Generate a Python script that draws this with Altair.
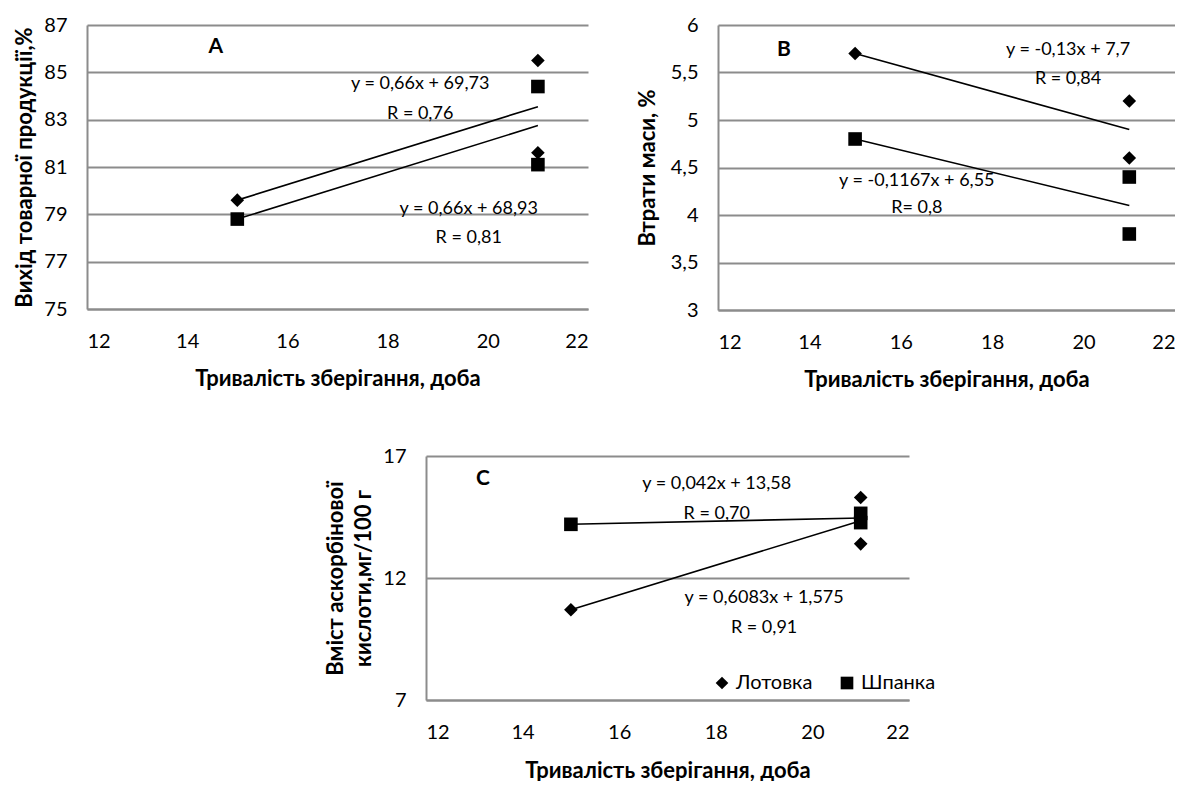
import altair as alt
import pandas as pd

FONT = "Lato"
GRID = "#8c8c8c"

# ---- data -------------------------------------------------------------
varieties = ["Лотовка", "Шпанка"]
days = [15, 21, 21]

a_lotovka = [79.6, 85.5, 81.6]
a_shpanka = [78.8, 84.4, 81.1]
b_lotovka = [5.7, 5.2, 4.6]
b_shpanka = [4.8, 4.4, 3.8]
c_lotovka = [10.7, 15.3, 13.4]
c_shpanka = [14.2, 14.65, 14.27]

x_ticks = [12, 14, 16, 18, 20, 22]
a_ticks = [75, 77, 79, 81, 83, 85, 87]
b_ticks = [3, 3.5, 4, 4.5, 5, 5.5, 6]
c_ticks = [7, 12, 17]

x_title = "Тривалість зберігання, доба"
a_title = "Вихід товарної продукції,%"
b_title = "Втрати маси, %"
c_title = ["Вміст аскорбінової", "кислоти,мг/100 г"]

a_labels = ["y = 0,66x + 69,73", "R = 0,76", "y = 0,66x + 68,93", "R = 0,81"]
a_label_x = [18.65, 18.65, 19.62, 19.62]
a_label_y = [84.5, 83.24, 79.23, 78.0]
b_labels = ["y = -0,13x + 7,7", "R = 0,84", "y = -0,1167x + 6,55", "R= 0,8"]
b_label_x = [19.66, 19.66, 16.35, 16.35]
b_label_y = [5.74, 5.43, 4.36, 4.07]
c_labels = ["y = 0,042x + 13,58", "R = 0,70", "y = 0,6083x + 1,575", "R = 0,91"]
c_label_x = [18.02, 18.02, 19.0, 19.0]
c_label_y = [15.85, 14.62, 11.18, 9.95]

letters = ["A", "B", "C"]
letter_x = [14.57, 13.44, 13.18]
letter_y = [86.07, 5.74, 16.06]


def points_frame(lot, shp):
    rows = []
    for d, v in zip(days, lot):
        rows.append({"day": d, "val": v, "variety": varieties[0]})
    for d, v in zip(days, shp):
        rows.append({"day": d, "val": v, "variety": varieties[1]})
    return pd.DataFrame(rows)


def panel(lot, shp, yticks, ytitle, labels, lx, ly, letter, ltx, lty,
          width, height, ytitle_pad, xtitle_pad, show_legend):
    df = points_frame(lot, shp)
    ydom = [min(yticks), max(yticks)]
    xs = alt.Scale(domain=[12, 22], nice=False, zero=False)
    ys = alt.Scale(domain=ydom, nice=False, zero=False)
    xaxis = alt.Axis(values=x_ticks, title=x_title, grid=False, ticks=False,
                     labelPadding=22, titlePadding=xtitle_pad,
                     domainColor=GRID, domainWidth=2)
    yaxis = alt.Axis(values=yticks, title=ytitle, grid=True, ticks=False,
                     labelPadding=20, titlePadding=ytitle_pad,
                     domainColor=GRID, domainWidth=2,
                     gridColor=GRID, gridWidth=2,
                     labelExpr="replace(toString(datum.value), '.', ',')")
    if show_legend:
        legend = alt.Legend(title=None, orient="none", direction="horizontal",
                            legendX=286, legendY=217, symbolSize=160, padding=0,
                            symbolFillColor="black", symbolStrokeColor="black",
                            symbolStrokeWidth=0,
                            labelFont=FONT, labelFontSize=20, labelColor="black",
                            columnPadding=24, labelOffset=4)
    else:
        legend = None

    trend = alt.Chart(df).transform_regression(
        "day", "val", groupby=["variety"], extent=[15, 21]
    ).mark_line(color="black", strokeWidth=1.6).encode(
        x=alt.X("day:Q", scale=xs, axis=xaxis),
        y=alt.Y("val:Q", scale=ys, axis=yaxis),
        detail="variety:N",
    )
    pts = alt.Chart(df).mark_point(filled=True, opacity=1, color="black",
                                   size=185).encode(
        x=alt.X("day:Q", scale=xs),
        y=alt.Y("val:Q", scale=ys),
        shape=alt.Shape("variety:N",
                        scale=alt.Scale(domain=varieties, range=["diamond", "square"]),
                        legend=legend),
    )
    ann = pd.DataFrame({"label": labels, "day": lx, "val": ly})
    txt = alt.Chart(ann).mark_text(font=FONT, fontSize=18, color="black").encode(
        x=alt.X("day:Q", scale=xs), y=alt.Y("val:Q", scale=ys), text="label:N"
    )
    let = alt.Chart(pd.DataFrame({"label": [letter], "day": [ltx], "val": [lty]})).mark_text(
        font=FONT, fontSize=21, fontWeight="bold", color="black"
    ).encode(x=alt.X("day:Q", scale=xs), y=alt.Y("val:Q", scale=ys), text="label:N")
    return alt.layer(trend, pts, txt, let).properties(width=width, height=height)


A = panel(a_lotovka, a_shpanka, a_ticks, a_title, a_labels, a_label_x, a_label_y,
          letters[0], letter_x[0], letter_y[0], 501, 284, 7, 17, False)
B = panel(b_lotovka, b_shpanka, b_ticks, b_title, b_labels, b_label_x, b_label_y,
          letters[1], letter_x[1], letter_y[1], 457, 285, 11, 17, False)
C = panel(c_lotovka, c_shpanka, c_ticks, c_title, c_labels, c_label_x, c_label_y,
          letters[2], letter_x[2], letter_y[2], 483, 244, 7, 18, True)

spacer = alt.Chart(pd.DataFrame({"v": [0]})).mark_point(opacity=0).encode(
    x=alt.value(0), y=alt.value(0)
).properties(width=237, height=10)

top = alt.hconcat(A, B, spacing=48).resolve_scale(
    y="independent", shape="independent")
bottom = alt.hconcat(spacer, C, spacing=0).resolve_scale(
    y="independent", shape="independent")

chart = alt.vconcat(top, bottom, spacing=56).resolve_scale(
    y="independent", shape="independent"
).properties(
    padding={"left": 5, "top": 7, "right": 0, "bottom": 0}
).configure_view(stroke=None).configure_axis(
    labelFont=FONT, labelFontSize=20, labelColor="black",
    titleFont=FONT, titleFontSize=22, titleFontWeight="bold", titleColor="black",
    titleLineHeight=28,
)

chart.save("out.html", embed_options={"renderer": "svg", "actions": False})
